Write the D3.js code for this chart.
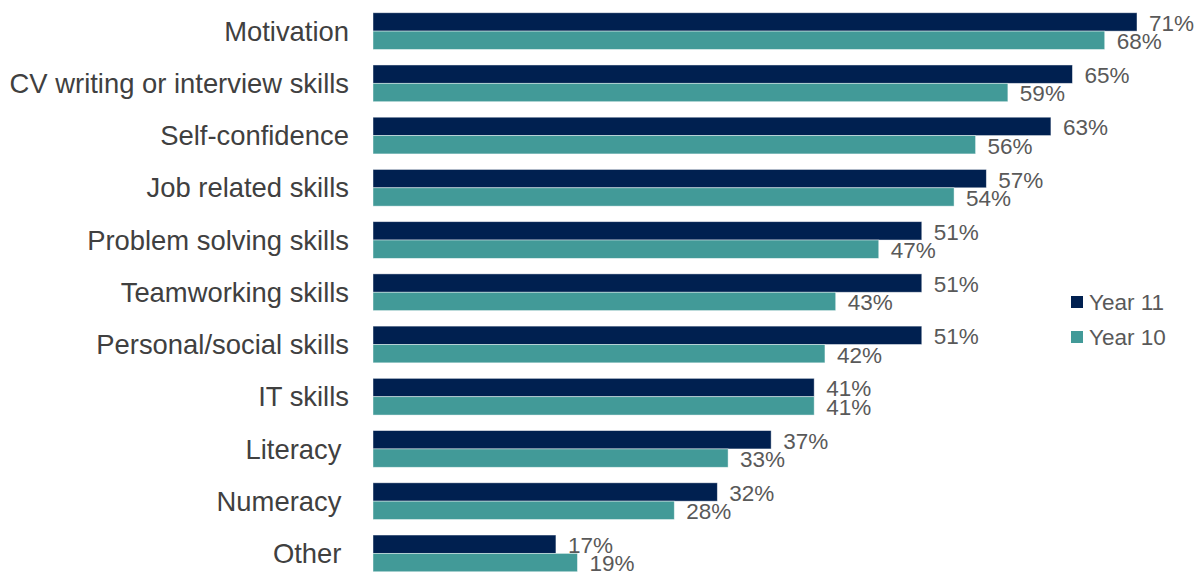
<!DOCTYPE html>
<html>
<head>
<meta charset="utf-8">
<script src="https://cdn.jsdelivr.net/npm/d3@7/dist/d3.min.js"></script>
<style>
  html, body { margin: 0; padding: 0; background: #ffffff; }
  svg { display: block; font-family: "Liberation Sans", Arial, sans-serif; }
</style>
</head>
<body>
<svg id="chart" width="1202" height="572"></svg>
<script>
// Skills areas, top to bottom
const categories = [
  "Motivation",
  "CV writing or interview skills",
  "Self-confidence",
  "Job related skills",
  "Problem solving skills",
  "Teamworking skills",
  "Personal/social skills",
  "IT skills",
  "Literacy ",
  "Numeracy ",
  "Other "
];
const seriesNames = ["Year 11", "Year 10"];
const year11 = [71, 65, 63, 57, 51, 51, 51, 41, 37, 32, 17];
const year10 = [68, 59, 56, 54, 47, 43, 42, 41, 33, 28, 19];
const seriesColors = ["#002050", "#429A98"];

const svg = d3.select("#chart");

const plot = { left: 373, top: 5, bottom: 579.5 };
const pxPerPct = 764 / 71;

const x = d3.scaleLinear().domain([0, 100]).range([plot.left, plot.left + 100 * pxPerPct]);
const y = d3.scaleBand().domain(categories).range([plot.top, plot.bottom])
  .paddingInner(0.297).paddingOuter(0.1485);
const ySub = d3.scaleBand().domain(seriesNames).range([0, y.bandwidth()]);

const rows = categories.map((c, i) => ({ cat: c, values: [year11[i], year10[i]] }));

// Category labels
svg.append("g").selectAll("text").data(categories).join("text")
  .attr("x", plot.left - 24)
  .attr("y", d => y(d) + y.bandwidth() / 2)
  .attr("dy", "0.35em")
  .attr("text-anchor", "end")
  .attr("font-size", 27.4)
  .attr("fill", "#404040")
  .style("white-space", "pre")
  .text(d => d);

// Bars and value labels
const groups = svg.append("g").selectAll("g").data(rows).join("g")
  .attr("transform", d => `translate(0,${y(d.cat)})`);

const items = d => d.values.map((v, k) => ({ v, k }));

groups.selectAll("rect").data(items).join("rect")
  .attr("x", x(0))
  .attr("y", d => ySub(seriesNames[d.k]))
  .attr("width", d => x(d.v) - x(0))
  .attr("height", ySub.bandwidth())
  .attr("fill", d => seriesColors[d.k])
  .attr("stroke", "rgba(255,255,255,0.55)")
  .attr("stroke-width", 0.8);

groups.selectAll("text").data(items).join("text")
  .attr("x", d => x(d.v) + 12)
  .attr("y", d => ySub(seriesNames[d.k]) + ySub.bandwidth() / 2 + 1)
  .attr("dy", "0.35em")
  .attr("font-size", 22.5)
  .attr("fill", "#595959")
  .text(d => d.v + "%");

// Legend
const legend = svg.append("g").attr("transform", "translate(1071,296)");
const li = legend.selectAll("g").data(seriesNames).join("g")
  .attr("transform", (d, i) => `translate(0,${i * 35})`);
li.append("rect").attr("width", 12).attr("height", 12)
  .attr("fill", (d, i) => seriesColors[i]);
li.append("text").attr("x", 18).attr("y", 6).attr("dy", "0.35em")
  .attr("font-size", 22.5).attr("fill", "#595959").text(d => d);
</script>
</body>
</html>
